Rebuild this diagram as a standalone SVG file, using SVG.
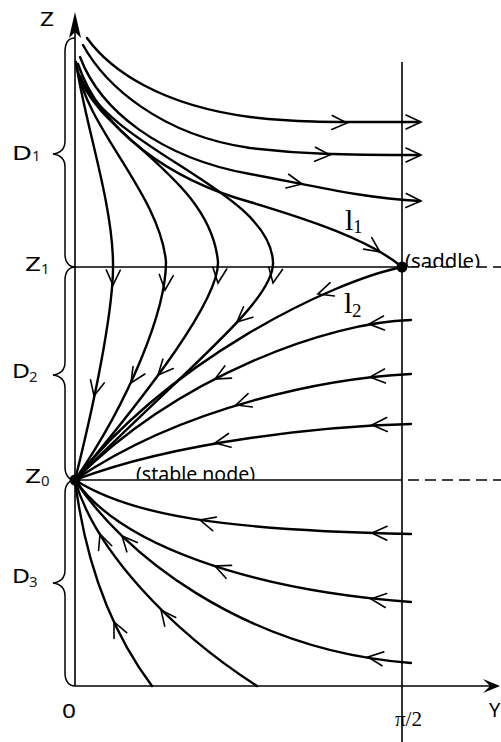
<svg xmlns="http://www.w3.org/2000/svg" width="501" height="742" viewBox="0 0 501 742">
<style>
.ax{stroke:#000;stroke-width:1.6;fill:none}
.tr{stroke:#000;stroke-width:2.4;fill:none;stroke-linecap:round}
.br{stroke:#000;stroke-width:1.5;fill:none}
.dash{stroke:#000;stroke-width:1.6;stroke-dasharray:11 6;fill:none}
.ch{stroke:#000;stroke-width:1.6;fill:none;stroke-linecap:round;stroke-linejoin:miter}
.lb{font-family:"Noto Sans","DejaVu Sans",sans-serif;font-size:20px;fill:#000}
.sb{font-family:"Noto Sans","DejaVu Sans",sans-serif;font-size:15px;fill:#222}
.sf{font-family:"Liberation Serif","Times New Roman",serif;fill:#000}
</style>
<defs>
<path id="chev" d="M-15,-7 L0,0 L-15,7"/>
<clipPath id="clipS"><rect x="400" y="240" width="101" height="27"/></clipPath>
<clipPath id="clipN"><rect x="120" y="450" width="160" height="29.5"/></clipPath>
</defs>
<rect width="501" height="742" fill="#fff"/>

<g id="axes">
<line class="ax" x1="75" y1="686" x2="75" y2="30"/>
<path d="M75,12 L81,38 L75,32 L69,38 Z" fill="#000"/>
<line class="ax" x1="75" y1="686" x2="490" y2="686" stroke="#333"/>
<path d="M500,686 L483,679 L490,686 L483,693 Z" fill="#000"/>
<line class="ax" x1="402" y1="62" x2="402" y2="742"/>
<line class="ax" x1="75" y1="267" x2="402" y2="267"/>
<line class="dash" x1="408" y1="267" x2="501" y2="267"/>
<line class="ax" x1="75" y1="480" x2="402" y2="480"/>
<line class="dash" x1="408" y1="480" x2="501" y2="480"/>
</g>

<g id="braces">
<path class="br" d="M75,38 C68,38 65,44 65,52 L65,141 C65,149 60,153 53,154 C60,155 65,159 65,167 L65,254 C65,262 69,267 75,267"/>
<path class="br" d="M75,267 C69,267 65,272 65,280 L65,362 C65,370 60,374 53,375 C60,376 65,380 65,388 L65,467 C65,475 69,480 75,480"/>
<path class="br" d="M75,480 C69,480 65,485 65,493 L65,570 C65,578 60,582 53,583 C60,584 65,588 65,596 L65,673 C65,681 69,686 75,686"/>
</g>

<g id="connectors">
<path class="tr" d="M87,38 C110,70 160,105 250,117 C300,123 340,122 420,122"/>
<path class="tr" d="M83,45 C105,85 160,135 250,148 C300,154 340,155 420,155"/>
<path class="tr" d="M80,57 C100,110 160,158 250,174 C310,185 360,198 420,201"/>
<path id="l1" class="tr" d="M78,64 C100,130 170,180 250,202 C310,220 370,240 402,267"/>
<path class="tr" d="M76,62 C84,120 112,200 113,262 C114,300 100,380 75,480"/>
<path class="tr" d="M77,68 C88,130 160,195 166,262 C166,310 130,400 75,480"/>
<path class="tr" d="M78,72 C95,135 210,175 218,262 C219,300 150,390 75,480"/>
<path class="tr" d="M80,76 C110,150 270,190 273,262 C275,300 190,365 75,480"/>
<path id="l2" class="tr" d="M402,267 C330,282 170,360 75,480"/>
<path class="tr" d="M411,320 C330,322 180,375 75,480"/>
<path class="tr" d="M411,374 C330,378 185,405 75,480"/>
<path class="tr" d="M411,424 C330,426 180,440 75,480"/>
<path class="tr" d="M75,480 C130,515 220,530 411,534"/>
<path class="tr" d="M75,480 C120,545 250,590 411,602"/>
<path class="tr" d="M75,480 C120,550 240,650 411,663"/>
<path class="tr" d="M75,480 C95,550 170,630 257,686"/>
<path class="tr" d="M75,480 C85,560 110,630 152,686"/>

<g class="ch">
<use href="#chev" transform="translate(347,123) rotate(2)"/>
<use href="#chev" transform="translate(421,122)"/>
<use href="#chev" transform="translate(330,155) rotate(3)"/>
<use href="#chev" transform="translate(421,155)"/>
<use href="#chev" transform="translate(302,184) rotate(11)"/>
<use href="#chev" transform="translate(421,201) rotate(2)"/>
<use href="#chev" transform="translate(380,252) rotate(35)"/>
<use href="#chev" transform="translate(113,285) rotate(91)"/>
<use href="#chev" transform="translate(165,290) rotate(95)"/>
<use href="#chev" transform="translate(218,283) rotate(97)"/>
<use href="#chev" transform="translate(273,283) rotate(100)"/>
<use href="#chev" transform="translate(94,396) rotate(103)"/>
<use href="#chev" transform="translate(131,383) rotate(122)"/>
<use href="#chev" transform="translate(158,375) rotate(132)"/>
<use href="#chev" transform="translate(237,322) rotate(138)"/>
<use href="#chev" transform="translate(318,294) rotate(162)"/>
<use href="#chev" transform="translate(215,379) rotate(152)"/>
<use href="#chev" transform="translate(236,405) rotate(162)"/>
<use href="#chev" transform="translate(215,443) rotate(170)"/>
<use href="#chev" transform="translate(369,324) rotate(176)"/>
<use href="#chev" transform="translate(370,377) rotate(176)"/>
<use href="#chev" transform="translate(372,425) rotate(178)"/>
<use href="#chev" transform="translate(372,533) rotate(181)"/>
<use href="#chev" transform="translate(200,520) rotate(195)"/>
<use href="#chev" transform="translate(371,599) rotate(186)"/>
<use href="#chev" transform="translate(215,566) rotate(203)"/>
<use href="#chev" transform="translate(368,657) rotate(187)"/>
<use href="#chev" transform="translate(122,536) rotate(228)"/>
<use href="#chev" transform="translate(100,534) rotate(250)"/>
<use href="#chev" transform="translate(161,610) rotate(232)"/>
<use href="#chev" transform="translate(114,622) rotate(245)"/>
</g>
</g>

<g id="saddle">
<circle cx="402" cy="267" r="5.5" fill="#000"/>
<text class="lb" x="405" y="268" textLength="75" lengthAdjust="spacingAndGlyphs" clip-path="url(#clipS)">(saddle)</text>
</g>
<g id="stable-node">
<circle cx="75" cy="480" r="5.5" fill="#000"/>
<text class="lb" x="136" y="480.5" textLength="119" lengthAdjust="spacingAndGlyphs" clip-path="url(#clipN)">(stable node)</text>
</g>

<g id="labels">
<text class="lb" x="40" y="26" textLength="14" lengthAdjust="spacingAndGlyphs">Z</text>
<text class="lb" x="12" y="160" textLength="20" lengthAdjust="spacingAndGlyphs">D</text><text class="sb" x="32" y="161">1</text>
<text class="lb" x="25" y="271" textLength="16" lengthAdjust="spacingAndGlyphs">Z</text><text class="sb" x="41" y="274">1</text>
<text class="lb" x="12" y="378" textLength="18" lengthAdjust="spacingAndGlyphs">D</text><text class="sb" x="29" y="382">2</text>
<text class="lb" x="25" y="483" textLength="16" lengthAdjust="spacingAndGlyphs">Z</text><text class="sb" x="41" y="486">0</text>
<text class="lb" x="12" y="583" textLength="18" lengthAdjust="spacingAndGlyphs">D</text><text class="sb" x="29" y="587">3</text>
<text class="lb" x="62" y="718" textLength="14" lengthAdjust="spacingAndGlyphs">0</text>
<text class="lb" x="489" y="717">Y</text>
<text class="sf" x="395" y="726" font-size="21">π/2</text>
<text class="sf" x="345" y="230" font-size="30">l</text><text class="sf" x="353" y="233" font-size="19">1</text>
<text class="sf" x="344" y="313" font-size="30">l</text><text class="sf" x="352" y="317" font-size="19">2</text>
</g>
</svg>
